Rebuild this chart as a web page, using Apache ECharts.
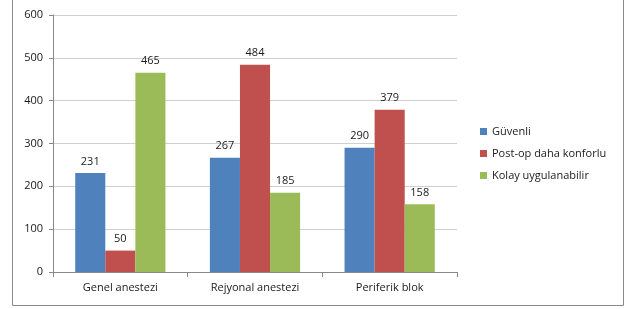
<!DOCTYPE html>
<html><head><meta charset="utf-8">
<script src="https://cdn.jsdelivr.net/npm/echarts@6/dist/echarts.min.js"></script>
<style>html,body{margin:0;padding:0;background:#fff}#c{width:624px;height:309px}</style>
</head><body><div id="c"></div>
<script>
const categories = ['Genel anestezi', 'Rejyonal anestezi', 'Periferik blok'];
const seriesNames = ['Güvenli', 'Post-op daha konforlu', 'Kolay uygulanabilir'];
const guvenli = [231, 267, 290];
const postop = [50, 484, 379];
const kolay = [465, 185, 158];
const colors = ['#4F81BD', '#C0504D', '#9BBB59'];
const font = 'Open Sans, Liberation Sans, sans-serif';
const chart = echarts.init(document.getElementById('c'), null, {renderer: 'canvas'});
const mk = (name, data, color) => ({
  name, type: 'bar', data, barGap: '0%', barCategoryGap: '33%',
  itemStyle: {color},
  label: {show: true, position: 'top', distance: 6, color: '#1a1a1a', fontSize: 11, fontFamily: font}
});
chart.setOption({
  animation: false,
  textStyle: {fontFamily: font},
  grid: {left: 53, right: 167, top: 15, bottom: 37},
  legend: {
    orient: 'vertical', left: 475, top: 121, itemWidth: 7, itemHeight: 7, itemGap: 11,
    icon: 'rect', textStyle: {fontSize: 11, color: '#1a1a1a', fontFamily: font},
    data: seriesNames
  },
  xAxis: {
    type: 'category', data: categories,
    axisLine: {lineStyle: {color: '#888'}},
    axisTick: {show: true, length: 5, lineStyle: {color: '#888'}},
    axisLabel: {color: '#1a1a1a', fontSize: 11, margin: 10, fontFamily: font}
  },
  yAxis: {
    type: 'value', min: 0, max: 600, interval: 100,
    axisLine: {show: true, lineStyle: {color: '#888'}},
    axisTick: {show: true, length: 4, lineStyle: {color: '#888'}},
    axisLabel: {color: '#1a1a1a', fontSize: 11, margin: 10, fontFamily: font},
    splitLine: {lineStyle: {color: '#d0d0d0'}}
  },
  graphic: [{type: 'rect', shape: {x: 12.5, y: -2, width: 611, height: 307.5},
    style: {fill: 'none', stroke: '#8a8a8a', lineWidth: 1}, silent: true}],
  series: [mk(seriesNames[0], guvenli, colors[0]), mk(seriesNames[1], postop, colors[1]), mk(seriesNames[2], kolay, colors[2])]
});
</script></body></html>
